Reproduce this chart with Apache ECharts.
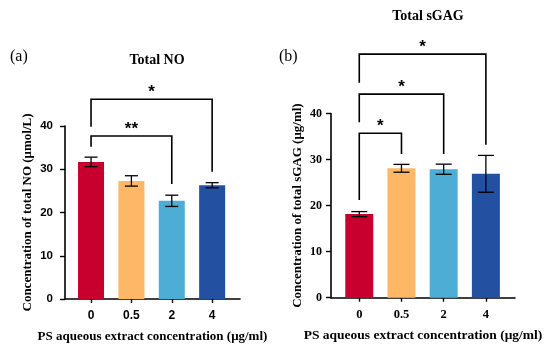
<!DOCTYPE html>
<html>
<head>
<meta charset="utf-8">
<script src="https://cdn.jsdelivr.net/npm/echarts@6/dist/echarts.min.js"></script>
<style>html,body{margin:0;padding:0;background:#fff}#c{width:550px;height:350px}</style>
</head>
<body>
<div id="c"></div>
<script>
// ---- data ----
const categories = ['0', '0.5', '2', '4'];
const barColors = ['#C8002D', '#FDB766', '#4DADD5', '#2350A0'];
const noMeans = [31.7, 27.3, 22.7, 26.3];
const noErr = [1.1, 1.2, 1.3, 0.6];
const gagMeans = [18.15, 28.1, 27.9, 26.9];
const gagErr = [0.55, 0.85, 1.1, 4.0];
const yTicks = [0, 10, 20, 30, 40];
// brackets: [fromIndex, toIndex, topValue, leftEndValue, rightEndValue, label]
const noBrackets = [
  [0, 3, 46.2, 39.8, 29.4, '*'],
  [0, 2, 37.7, 35.2, 26.6, '**']
];
const gagBrackets = [
  [0, 3, 52.9, 46.7, 33.2, '*'],
  [0, 2, 44.2, 38.1, 31.2, '*'],
  [0, 1, 35.7, 21.2, 31.2, '*']
];

const serif = '"Liberation Serif","Times New Roman",serif';
const sans = '"Liberation Sans",Arial,sans-serif';

function barData(means) {
  return means.map((v, i) => ({ value: [i, v], itemStyle: { color: barColors[i] } }));
}
function errData(means, errs) {
  return means.map((v, i) => [i, v - errs[i], v + errs[i]]);
}
function errRender(cap) {
  return function (params, api) {
    const x = api.value(0);
    const lo = api.coord([x, api.value(1)]);
    const hi = api.coord([x, api.value(2)]);
    const st = { stroke: '#000', lineWidth: 1.3 };
    return { type: 'group', children: [
      { type: 'line', shape: { x1: lo[0], y1: lo[1], x2: hi[0], y2: hi[1] }, style: st },
      { type: 'line', shape: { x1: hi[0] - cap / 2, y1: hi[1], x2: hi[0] + cap / 2, y2: hi[1] }, style: st },
      { type: 'line', shape: { x1: lo[0] - cap / 2, y1: lo[1], x2: lo[0] + cap / 2, y2: lo[1] }, style: st }
    ]};
  };
}
function bracketRender(params, api) {
  const x1 = api.value(0), x2 = api.value(1), top = api.value(2), l = api.value(3), r = api.value(4);
  const p1 = api.coord([x1, l]), p2 = api.coord([x1, top]), p3 = api.coord([x2, top]), p4 = api.coord([x2, r]);
  return { type: 'group', children: [
    { type: 'polyline', shape: { points: [p1, p2, p3, p4] }, style: { stroke: '#000', lineWidth: 1.6, fill: null } },
    { type: 'text', style: { text: api.value(5), x: (p2[0] + p3[0]) / 2, y: p2[1] - 7, align: 'center', verticalAlign: 'middle',
      font: 'bold 17px ' + sans, fill: '#000' } }
  ]};
}

function xAxisCfg(gridIndex, min, max, labelFont, fontSize, nameSize) {
  return {
    type: 'value', gridIndex, min, max,
    name: 'PS aqueous extract concentration (μg/ml)', nameLocation: 'middle', nameGap: 31,
    nameTextStyle: { fontFamily: serif, fontWeight: 'bold', fontSize: nameSize, color: '#000' },
    axisLine: { show: true, onZero: false, lineStyle: { color: '#000', width: 1.6 } },
    axisTick: { show: true, customValues: [0, 1, 2, 3], length: 4, lineStyle: { color: '#000', width: 1.4 } },
    axisLabel: { customValues: [0, 1, 2, 3], formatter: v => categories[Math.round(v)], margin: 11,
      fontFamily: labelFont, fontWeight: 'bold', fontSize, color: '#000' },
    splitLine: { show: false }
  };
}
function yAxisCfg(gridIndex, name, labelFont, fontSize, nameGap, labelMargin) {
  return {
    type: 'value', gridIndex, min: yTicks[0], max: yTicks[yTicks.length - 1], interval: 10,
    name, nameLocation: 'middle', nameGap,
    nameTextStyle: { fontFamily: serif, fontWeight: 'bold', fontSize: 13, color: '#000' },
    axisLine: { show: true, onZero: false, lineStyle: { color: '#000', width: 1.6 } },
    axisTick: { show: true, length: 5, lineStyle: { color: '#000', width: 1.4 } },
    axisLabel: { margin: labelMargin, fontFamily: labelFont, fontWeight: 'bold', fontSize, color: '#000' },
    splitLine: { show: false }
  };
}

const chart = echarts.init(document.getElementById('c'), null, { renderer: 'canvas' });
chart.setOption({
  animation: false,
  backgroundColor: '#fff',
  title: [
    { text: 'Total NO', left: 152, top: 48, textAlign: 'center', textStyle: { fontFamily: serif, fontWeight: 'bold', fontSize: 14, color: '#000' } },
    { text: 'Total sGAG', left: 423, top: 4, textAlign: 'center', textStyle: { fontFamily: serif, fontWeight: 'bold', fontSize: 14, color: '#000' } },
    { text: '(a)', left: 5, top: 44, textStyle: { fontFamily: serif, fontWeight: 'normal', fontSize: 16, color: '#000' } },
    { text: '(b)', left: 274, top: 44, textStyle: { fontFamily: serif, fontWeight: 'normal', fontSize: 16, color: '#000' } }
  ],
  grid: [
    { left: 65, right: 310, top: 126, bottom: 51 },
    { left: 331, right: 35, top: 113.5, bottom: 52.3 }
  ],
  xAxis: [
    xAxisCfg(0, -0.645, 3.69, sans, 12, 13),
    xAxisCfg(1, -0.67, 3.69, serif, 12.5, 13.5)
  ],
  yAxis: [
    yAxisCfg(0, 'Concentration of total NO (μmol/L)', sans, 11.5, 30.5, 12),
    yAxisCfg(1, 'Concentration of total sGAG (μg/ml)', serif, 12, 26.5, 9)
  ],
  series: [
    { type: 'bar', xAxisIndex: 0, yAxisIndex: 0, barWidth: 26, data: barData(noMeans) },
    { type: 'bar', xAxisIndex: 1, yAxisIndex: 1, barWidth: 28, data: barData(gagMeans) },
    { type: 'custom', xAxisIndex: 0, yAxisIndex: 0, renderItem: errRender(13), data: errData(noMeans, noErr), z: 5 },
    { type: 'custom', xAxisIndex: 1, yAxisIndex: 1, renderItem: errRender(16), data: errData(gagMeans, gagErr), z: 5 },
    { type: 'custom', xAxisIndex: 0, yAxisIndex: 0, renderItem: bracketRender, data: noBrackets, clip: false, z: 5,
      dimensions: ['a', 'b', 'c', 'd', 'e', { name: 'f', type: 'ordinal' }] },
    { type: 'custom', xAxisIndex: 1, yAxisIndex: 1, renderItem: bracketRender, data: gagBrackets, clip: false, z: 5,
      dimensions: ['a', 'b', 'c', 'd', 'e', { name: 'f', type: 'ordinal' }] }
  ]
});
</script>
</body>
</html>
